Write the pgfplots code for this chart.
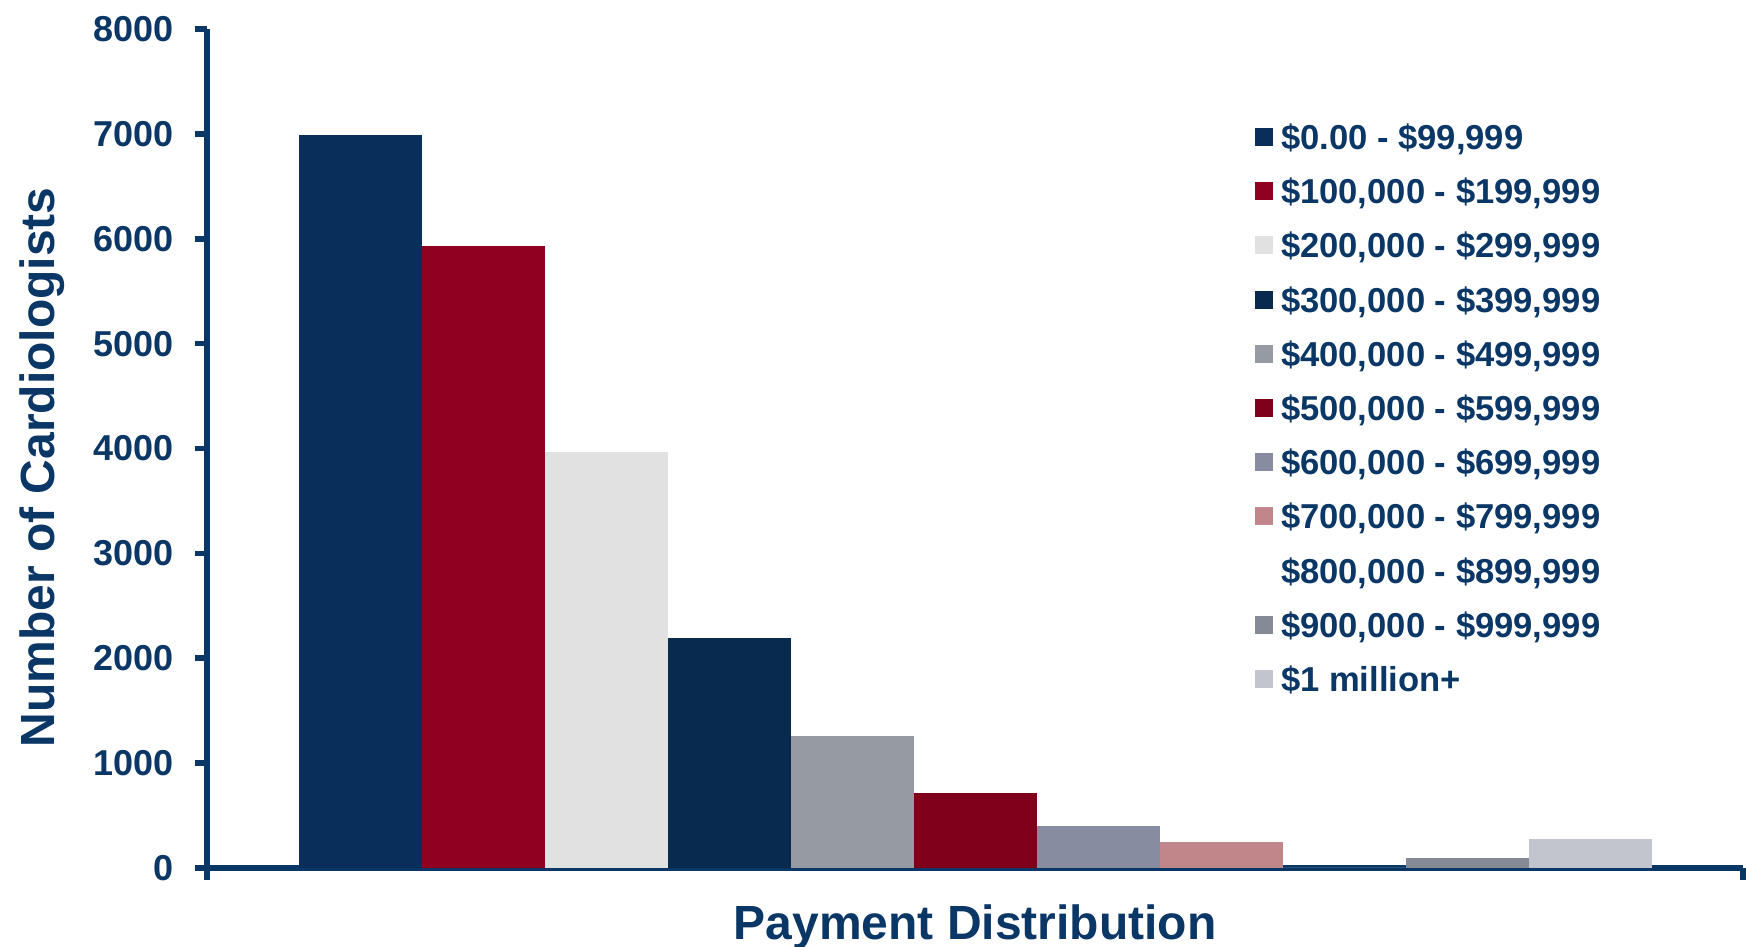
\documentclass[border=0pt]{standalone}
\usepackage{pgfplots}
\pgfplotsset{compat=1.18}
\usepackage{fontspec}
\setmainfont{Liberation Sans}
\definecolor{txt}{HTML}{0B3766}
\definecolor{axc}{HTML}{0B3766}
\definecolor{c1}{HTML}{0A2E5A}
\definecolor{c2}{HTML}{900020}
\definecolor{c3}{HTML}{E1E1E1}
\definecolor{c4}{HTML}{072A4E}
\definecolor{c5}{HTML}{969AA3}
\definecolor{c6}{HTML}{80001C}
\definecolor{c7}{HTML}{878CA0}
\definecolor{c8}{HTML}{C08689}
\definecolor{c9}{HTML}{FFFFFF}
\definecolor{c10}{HTML}{858A96}
\definecolor{c11}{HTML}{C2C5CD}
\pgfplotsset{sq/.style={legend image code/.code={\path[##1] (0pt,-4.5pt) rectangle (9pt,4.5pt);}}}
\begin{document}
\begin{tikzpicture}
\begin{axis}[
  at={(0,0)}, anchor=south west,
  scale only axis, width=768pt, height=419.5pt,
  xmin=-0.5, xmax=0.5, ymin=0, ymax=8000,
  enlargelimits=false, clip=false,
  axis x line=bottom, axis y line=left,
  axis line style={-, line width=2.8pt, color=axc},
  ybar=0pt, bar width=61.5pt,
  xtick={-0.5,0.5}, xticklabels={{},{}},
  ytick={0,1000,2000,3000,4000,5000,6000,7000,8000},
  tick align=outside, major tick length=6pt,
  tick style={line width=2.8pt, color=axc},
  yticklabel style={font=\bfseries\fontsize{18}{18}\selectfont, text=txt, anchor=east, inner sep=0pt, xshift=-10.75pt},
  /pgf/number format/assume math mode=true,
  /pgf/number format/1000 sep={},
  ylabel={Number of Cardiologists},
  ylabel style={font=\bfseries\fontsize{24}{24}\selectfont, text=txt, at={(axis description cs:0,0.4774)}, anchor=base, yshift=76pt},
  xlabel={Payment Distribution},
  xlabel style={font=\bfseries\fontsize{24}{24}\selectfont, text=txt, at={(axis description cs:0.5,0)}, anchor=base, yshift=-36pt},
  legend style={at={(axis description cs:0.6823,0.9035)}, anchor=north west, draw=none, fill=none, inner sep=0pt, outer sep=0pt, row sep=0pt,
    nodes={inner sep=0pt, text height=19.75pt, text depth=7.35pt, font=\bfseries\fontsize{17.3}{17.3}\selectfont, text=txt},
    /tikz/every odd column/.append style={column sep=4pt}},
  legend cell align=left,
]
\addplot[fill=c1, draw=none, sq] coordinates {(0,6990)};
\addlegendentry{\$0.00 - \$99,999}
\addplot[fill=c2, draw=none, sq] coordinates {(0,5930)};
\addlegendentry{\$100,000 - \$199,999}
\addplot[fill=c3, draw=none, sq] coordinates {(0,3970)};
\addlegendentry{\$200,000 - \$299,999}
\addplot[fill=c4, draw=none, sq] coordinates {(0,2190)};
\addlegendentry{\$300,000 - \$399,999}
\addplot[fill=c5, draw=none, sq] coordinates {(0,1260)};
\addlegendentry{\$400,000 - \$499,999}
\addplot[fill=c6, draw=none, sq] coordinates {(0,715)};
\addlegendentry{\$500,000 - \$599,999}
\addplot[fill=c7, draw=none, sq] coordinates {(0,400)};
\addlegendentry{\$600,000 - \$699,999}
\addplot[fill=c8, draw=none, sq] coordinates {(0,252)};
\addlegendentry{\$700,000 - \$799,999}
\addplot[fill=c9, draw=none, sq] coordinates {(0,0)};
\addlegendentry{\$800,000 - \$899,999}
\addplot[fill=c10, draw=none, sq] coordinates {(0,95)};
\addlegendentry{\$900,000 - \$999,999}
\addplot[fill=c11, draw=none, sq] coordinates {(0,275)};
\addlegendentry{\$1 million+}
\end{axis}
\pgfresetboundingbox
\path (-103.5pt,-39.5pt) rectangle (769.5pt,434pt);
\end{tikzpicture}
\end{document}
